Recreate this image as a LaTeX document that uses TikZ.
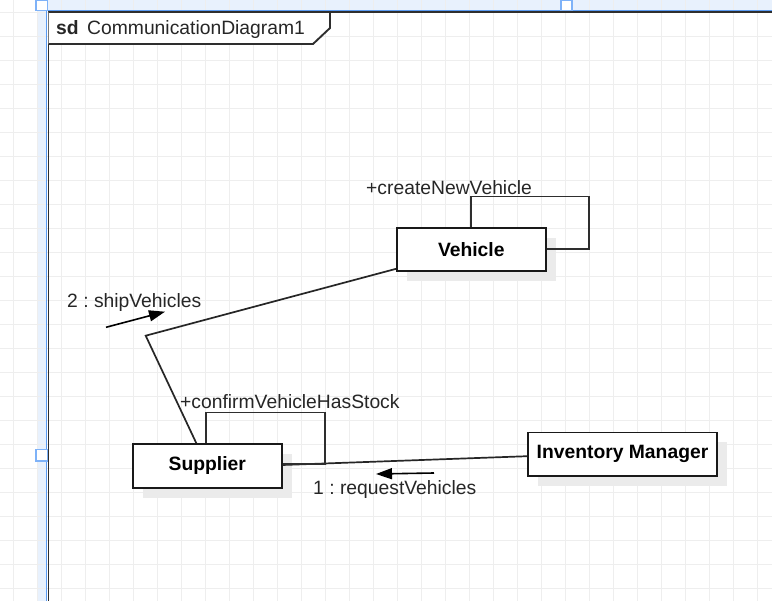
\documentclass[tikz,border=0pt]{standalone}
\usepackage{fontspec}
\setmainfont{Liberation Sans}
\usetikzlibrary{shadows,arrows.meta,calc}
\definecolor{gridc}{HTML}{EEEEEE}
\definecolor{bandc}{HTML}{E8F1FD}
\definecolor{bluel}{HTML}{5A9BF2}
\definecolor{handlec}{HTML}{7EB2F8}
\definecolor{darkl}{HTML}{2E2E2E}
\definecolor{shadowc}{HTML}{EBEBEB}
\frenchspacing
\begin{document}
\begin{tikzpicture}[x=1pt,y=-1pt,
  lbl/.style={anchor=base west, inner sep=0pt, font=\fontsize{19.3}{23}\selectfont\frenchspacing, text=black!85},
  objbox/.style={draw=black!90, line width=1.7pt, fill=white, inner sep=0pt,
    font=\fontsize{19.3}{23}\selectfont\bfseries,
    drop shadow={shadow xshift=10pt, shadow yshift=-10pt, fill=shadowc, opacity=1}},
  conn/.style={draw=black!85, line width=1.7pt},
  loopl/.style={draw=darkl, line width=1.6pt},
  msg/.style={draw=black, line width=1.6pt, -{Triangle[length=16pt,width=11pt]}},
  framel/.style={draw=darkl, line width=1.9pt},
  handle/.style={draw=handlec, line width=1.2pt, fill=white}
]
\useasboundingbox (0,0) rectangle (772,601);
\fill[white] (0,0) rectangle (772,601);
% selection bands
\fill[bandc] (37,0) rectangle (772,10.5);
\fill[bandc] (37,0) rectangle (47,601);
% grid
\foreach \i in {0,...,32} \draw[gridc, line width=0.8pt] ({13.3+24*\i},0) -- ({13.3+24*\i},601);
\foreach \j in {0,...,24} \draw[gridc, line width=0.8pt] (0,{12.7+24*\j}) -- (772,{12.7+24*\j});
% white inside frame
\fill[white] (48,12) rectangle (772,601);
\foreach \i in {2,...,32} \draw[gridc, line width=0.8pt] ({13.3+24*\i},12) -- ({13.3+24*\i},601);
\foreach \j in {1,...,24} \draw[gridc, line width=0.8pt] (48,{12.7+24*\j}) -- (772,{12.7+24*\j});
% blue selection lines
\draw[bluel, line width=1pt] (37,10.5) -- (772,10.5);
\draw[bluel, line width=1pt] (46.8,10.5) -- (46.8,601);
% frame
\draw[framel] (48.5,601) -- (48.5,12) -- (772,12);
\draw[framel, fill=white] (48.5,12) -- (330,12) -- (330,28) -- (313,44) -- (48.5,44);
\node[lbl] (sd) at (56,34.3) {\bfseries sd};
\node[lbl] (title) at (87,34.3) {CommunicationDiagram1};
% handles
\draw[handle] (36,0) rectangle (47.5,10.5);
\draw[handle] (561,0) rectangle (572,10.5);
\draw[handle] (36,449.5) rectangle (47.5,461);
% objects
\node[objbox, minimum width=149pt, minimum height=43pt] (V) at (471.3,249.5) {Vehicle};
\node[objbox, minimum width=149pt, minimum height=44pt] (S) at (207.3,466) {Supplier};
\node[objbox, minimum width=188.5pt, minimum height=43.6pt] (IM) at (622.5,454.2) {Inventory Manager};
% connectors
\coordinate (bend) at (145.7,335.7);
\draw[conn] ([yshift=3pt]V.south west) -- (bend) -- ([xshift=-11pt]S.north);
\draw[conn] ([yshift=1pt]S.east) -- ([yshift=-2pt]IM.west);
% self loops
\coordinate (vl) at (588.7,196.7);
\draw[loopl] ([xshift=-0.5pt]V.north) |- (vl) |- ([yshift=0.5pt]V.east);
\coordinate (sl) at (324.7,412.7);
\draw[loopl] ([xshift=-1.3pt]S.north) |- (sl) |- ([yshift=1.7pt]S.east);
% messages
\coordinate (m2s) at (106,327.3);
\coordinate (m2e) at (165,311.7);
\draw[msg] (m2s) -- (m2e);
\coordinate (m1s) at (434,473);
\coordinate (m1e) at (376,474);
\draw[msg] (m1s) -- (m1e);
% labels
\node[lbl] (l1) at (366,195) {+createNewVehicle};
\node[lbl] (l2) at (67,308) {2 : shipVehicles};
\node[lbl] (l3) at (180,409) {+confirmVehicleHasStock};
\node[lbl] (l4) at (313,494.5) {1 : requestVehicles};
\end{tikzpicture}
\end{document}
